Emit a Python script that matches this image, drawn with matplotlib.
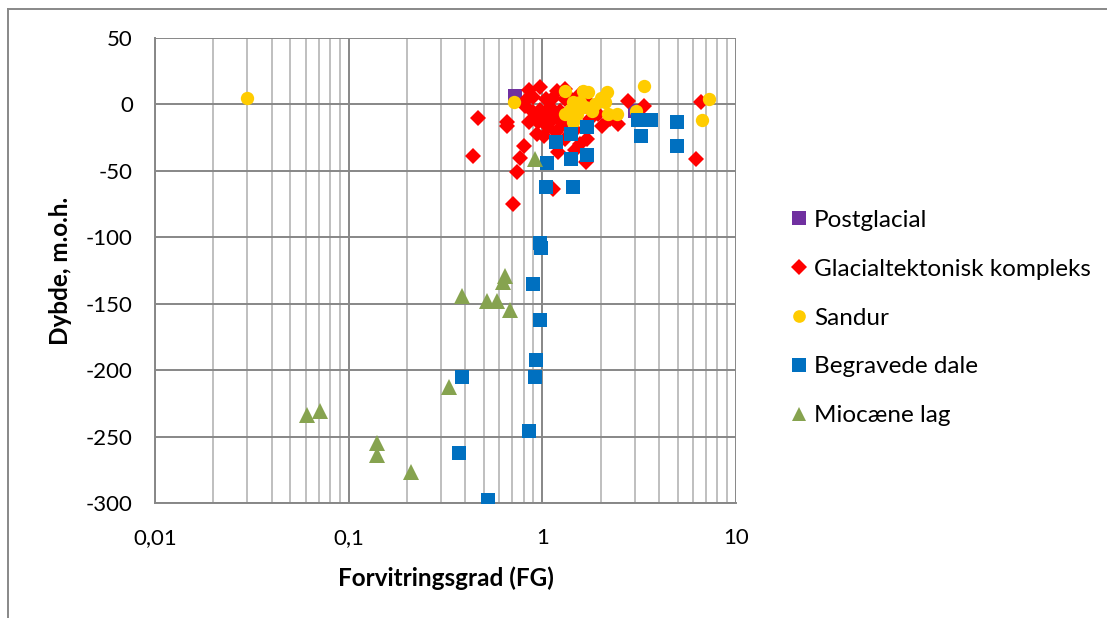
import matplotlib
matplotlib.use("Agg")
import matplotlib.pyplot as plt
from matplotlib.lines import Line2D
from matplotlib.ticker import FixedLocator, LogLocator, NullFormatter

plt.rcParams['font.family'] = ['Lato', 'DejaVu Sans']
plt.rcParams['axes.unicode_minus'] = False

# Forvitringsgrad (FG) og dybde (m.o.h.) for hver aflejringstype
postglacial_fg = [0.726, 3.0]
postglacial_z = [6, -5]

glacial_fg = [0.468, 0.66, 0.66, 0.817, 0.976, 0.90, 0.857, 0.942, 0.80, 0.77,
              0.436, 0.743, 0.709, 1.14, 1.21, 1.69, 1.71, 2.04, 2.46, 2.77,
              3.36, 6.6, 6.2, 1.48, 1.19, 1.31, 1.04, 1.10, 1.04, 1.13,
              1.24, 1.07, 1.18, 1.28, 1.39, 1.53, 1.67, 1.81, 1.31, 0.976,
              0.95, 1.02, 0.90, 1.48, 1.77, 1.94, 1.57, 1.39, 1.14, 0.85,
              0.83, 1.31, 1.57, 2.24]
glacial_z = [-10.5, -13, -16, -1.5, 12.8, 5.3, -13.6, -22.6, -31.6, -40,
             -39, -50.5, -74.6, -64, -36, -43.7, -26, -16.6, -15, 2.3,
             -1.5, 1.5, -40.7, -34, 10, 11.3, 4, -2, -8, -11,
             -5, -17, -21, -15, -10, -2, 4, -2, 4, -4,
             -13, -24, -6, -19, -11, -7, 7.5, 5, 5, 11,
             4, -26, -30, -11]

sandur_fg = [0.03, 0.717, 3.36, 7.26, 6.68, 3.05, 1.31, 1.63, 1.73, 2.16,
             2.11, 1.44, 1.57, 1.81, 1.31, 1.51, 2.19, 2.44, 1.44, 1.88,
             2.0, 1.67, 1.39]
sandur_z = [5, 2, 14, 4, -12, -5, 10, 10, 9, 9,
            1.5, 2, 1.5, -5, -7.5, -7.5, -7.5, -7.5, -13, 0,
            5, -2, -4]

dale_fg = [0.527, 0.373, 0.857, 0.387, 0.92, 0.931, 0.976, 0.90, 0.99, 0.976,
           1.05, 1.44, 1.06, 1.41, 1.71, 1.18, 1.41, 1.71, 3.24, 3.12,
           3.64, 4.97, 4.97]
dale_z = [-298, -262, -246, -205, -205, -192, -162, -135, -108, -104,
          -62, -62, -44, -41, -38, -28, -22, -17, -24, -12,
          -12, -13, -31]

miocaen_fg = [0.0607, 0.0709, 0.14, 0.14, 0.209, 0.328, 0.387, 0.52, 0.58,
              0.63, 0.645, 0.68, 0.92]
miocaen_z = [-234, -231, -255, -264, -277, -213, -144, -148, -148,
             -134, -129, -155, -41]

x_ticks = [0.01, 0.1, 1, 10]
x_ticklabels = ['0,01', '0,1', '1', '10']
y_ticks = [-300, -250, -200, -150, -100, -50, 0, 50]

series = [
    ('Postglacial', postglacial_fg, postglacial_z, 's', '#7030A0', 10),
    ('Glacialtektonisk kompleks', glacial_fg, glacial_z, 'D', '#FF0000', 8.2),
    ('Sandur', sandur_fg, sandur_z, 'o', '#FFCC00', 9.6),
    ('Begravede dale', dale_fg, dale_z, 's', '#0070C0', 10),
    ('Miocæne lag', miocaen_fg, miocaen_z, '^', '#86A34F', 11),
]

fig = plt.figure(figsize=(11.07, 6.18), dpi=100)
ax = fig.add_axes([155 / 1107, 115 / 618, 581 / 1107, 465 / 618])

for label, xs, ys, marker, color, size in series:
    ax.plot(xs, ys, linestyle='none', marker=marker, color=color,
            markersize=size, markeredgewidth=0, label=label, zorder=3)

ax.set_xscale('log')
ax.set_xlim(0.01, 10)
ax.set_ylim(-300, 50)
ax.xaxis.set_major_locator(FixedLocator(x_ticks))
ax.set_xticklabels(x_ticklabels)
ax.xaxis.set_minor_locator(LogLocator(base=10, subs=range(2, 10)))
ax.xaxis.set_minor_formatter(NullFormatter())
ax.set_yticks(y_ticks)

ax.grid(True, which='major', color='#878787', linewidth=1.4, zorder=0)
ax.grid(True, which='minor', axis='x', color='#BFBFBF', linewidth=1.4, zorder=0)
ax.set_axisbelow(True)
for side in ['top', 'right']:
    ax.spines[side].set_visible(False)
for side in ['left', 'bottom']:
    ax.spines[side].set_color('#878787')
    ax.spines[side].set_linewidth(1.4)

ax.tick_params(axis='both', which='both', length=0, labelsize=16)
ax.tick_params(axis='x', pad=18)
ax.tick_params(axis='y', pad=16)

ax.set_xlabel('Forvitringsgrad (FG)', fontsize=17.5, fontweight='bold', labelpad=13)
ax.set_ylabel('Dybde, m.o.h.', fontsize=17.5, fontweight='bold', labelpad=10)

handles = [Line2D([], [], linestyle='none', marker=m, color=c,
                  markersize=s * 0.95, markeredgewidth=0)
           for _, _, _, m, c, s in series]
fig.legend(handles, [s[0] for s in series], loc='center left',
           bbox_to_anchor=(780 / 1107, 1 - 318 / 618), frameon=False,
           fontsize=17.5, labelspacing=1.15, handlelength=0.8,
           handletextpad=0.2, borderaxespad=0)

# ramme om diagramområdet
fig.add_artist(Line2D([8 / 1107, 8 / 1107], [0, 1 - 9 / 618],
                      transform=fig.transFigure, color='#888888', linewidth=1.4))
fig.add_artist(Line2D([8 / 1107, 1], [1 - 9 / 618, 1 - 9 / 618],
                      transform=fig.transFigure, color='#888888', linewidth=1.4))

fig.savefig('out.png', dpi=100)
